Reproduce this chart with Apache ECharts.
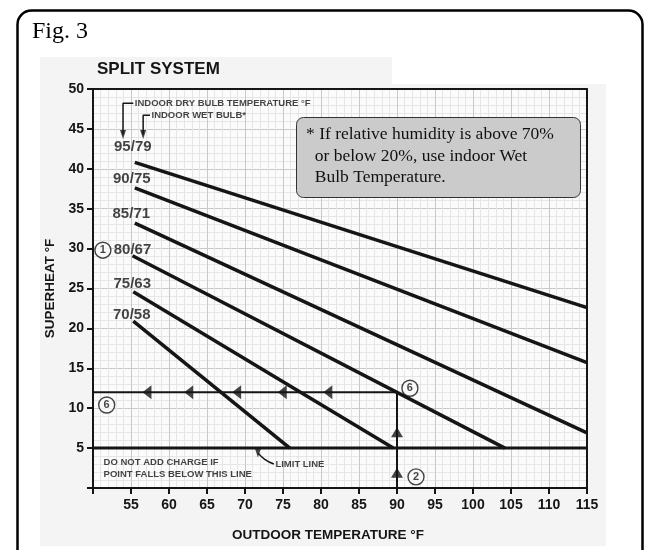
<!DOCTYPE html>
<html>
<head>
<meta charset="utf-8">
<script src="https://cdn.jsdelivr.net/npm/echarts@6/dist/echarts.min.js"></script>
<style>
  html, body { margin: 0; padding: 0; background: #fff; }
  #main { width: 645px; height: 550px; }
</style>
</head>
<body>
<div id="main"></div>
<script>
// indoor dry/wet bulb rating lines
var ratingLabels = ["95/79", "90/75", "85/71", "80/67", "75/63", "70/58"];
var lineStart = [[55.5, 40.8], [55.5, 37.6], [55.5, 33.2], [55.2, 29.1], [55.3, 24.6], [55.3, 20.9]];
var lineEnd = [[115, 22.6], [115, 15.7], [115, 6.9], [104.2, 5], [89.5, 5], [75.9, 5]];

// limit line and the worked example (90 F outdoor -> 12 F superheat)
var limitLine = [[50, 5], [115, 5]];
var exampleH = [[50, 12], [90, 12]];
var exampleV = [[90, 0], [90, 12]];
var leftArrows = [[57.1, 12], [62.6, 12], [68.9, 12], [74.9, 12], [80.9, 12]];
var upArrows = [[90, 7], [90, 1.9]];
var stepNames = ["1", "6", "6", "2"];
var stepAt = [[51.3, 29.8], [51.8, 10.4], [91.7, 12.5], [92.5, 1.4]];

// leader callouts
var dryLeader = [[55.3, 48.2], [53.95, 48.2], [53.95, 44.3]];
var wetLeader = [[57.5, 46.7], [56.6, 46.7], [56.6, 44.3]];
var limitLeader = [[73.8, 3.0], [72.6, 3.6], [71.7, 4.4]];

var xTicks = [50, 115, 5];
var yTicks = [0, 50, 5];

var ink = "#151515";
var sans = "Liberation Sans";
var serif = "Liberation Serif";

var myChart = echarts.init(document.getElementById("main"));

var labelShift = [[-2, -8], [-3, -1], [-3.5, -1], [0, 2], [-1, 0], [-1.5, 2]];

var series = [];
for (var i = 0; i < ratingLabels.length; i++) {
  series.push({
    type: "line",
    data: [lineStart[i], lineEnd[i]],
    symbol: "none",
    lineStyle: { color: ink, width: 3.5 },
    z: 5,
  });
}
series.push({
  type: "scatter",
  symbolSize: 1,
  itemStyle: { color: "rgba(0,0,0,0)" },
  data: lineStart.map(function (p, k) {
    return {
      value: p,
      label: {
        show: true,
        position: "top",
        distance: 0,
        offset: labelShift[k],
        formatter: ratingLabels[k],
        color: ink,
        fontFamily: sans,
        fontWeight: "bold",
        fontSize: 15,
      },
    };
  }),
  z: 6,
});
series.push(
  { type: "line", data: limitLine, symbol: "none", lineStyle: { color: ink, width: 3 }, z: 4 },
  { type: "line", data: exampleH, symbol: "none", lineStyle: { color: ink, width: 2 }, z: 4 },
  { type: "line", data: exampleV, symbol: "none", lineStyle: { color: ink, width: 2 }, z: 4 },
  {
    type: "scatter",
    data: leftArrows,
    symbol: "triangle",
    symbolSize: [14, 9],
    symbolRotate: 90,
    itemStyle: { color: ink },
    z: 7,
  },
  {
    type: "scatter",
    data: upArrows,
    symbol: "triangle",
    symbolSize: [12, 10],
    itemStyle: { color: ink },
    z: 7,
  },
  {
    type: "scatter",
    data: stepAt.map(function (p, k) {
      return { value: p, label: { formatter: stepNames[k] } };
    }),
    symbol: "circle",
    symbolSize: 16,
    itemStyle: { color: "#fafafa", borderColor: ink, borderWidth: 1.4 },
    label: { show: true, position: "inside", color: ink, fontFamily: sans, fontWeight: "bold", fontSize: 11 },
    z: 8,
  },
  {
    type: "line",
    data: dryLeader,
    symbol: "none",
    lineStyle: { color: ink, width: 1.5 },
    z: 6,
  },
  {
    type: "line",
    data: wetLeader,
    symbol: "none",
    lineStyle: { color: ink, width: 1.5 },
    z: 6,
  },
  {
    type: "line",
    data: limitLeader,
    symbol: "none",
    smooth: true,
    lineStyle: { color: ink, width: 1.5 },
    z: 6,
  },
  {
    type: "scatter",
    data: [dryLeader[2], wetLeader[2], limitLeader[2]],
    symbol: "triangle",
    symbolSize: [6, 9],
    symbolRotate: 180,
    itemStyle: { color: ink },
    z: 7,
  },
  {
    // callout texts
    type: "scatter",
    symbolSize: 1,
    itemStyle: { color: "rgba(0,0,0,0)" },
    label: {
      show: true,
      position: "right",
      distance: 1,
      color: ink,
      fontFamily: sans,
      fontWeight: "bold",
      fontSize: 9.5,
    },
    data: [
      { value: dryLeader[0], label: { formatter: "INDOOR DRY BULB TEMPERATURE °F" } },
      { value: wetLeader[0], label: { formatter: "INDOOR WET BULB*" } },
      { value: limitLeader[0], label: { formatter: "LIMIT LINE" } },
      {
        value: [51.2, 2.4],
        label: { formatter: "DO NOT ADD CHARGE IF\nPOINT FALLS BELOW THIS LINE", lineHeight: 12 },
      },
    ],
    z: 6,
  }
);

// top and right frame edges drawn as extra axes so they sit above the grid lines
var frameAxis = {
  min: 0,
  max: 1,
  axisLine: { show: true, onZero: false, lineStyle: { color: ink, width: 2 } },
  axisTick: { show: false },
  axisLabel: { show: false },
  splitLine: { show: false },
  z: 10,
};

var option = {
  animation: false,
  backgroundColor: "#fff",
  graphic: [
    {
      type: "rect",
      z: -10,
      shape: { x: 40, y: 57, width: 352, height: 30 },
      style: { fill: "#f4f4f4" },
    },
    {
      type: "rect",
      z: -10,
      shape: { x: 40, y: 84, width: 566, height: 462 },
      style: { fill: "#f4f4f4" },
    },
    {
      type: "rect",
      z: 100,
      shape: { x: 17.5, y: 10.5, width: 625, height: 560, r: 14 },
      style: { fill: null, stroke: "#000", lineWidth: 2.5 },
    },
    {
      type: "text",
      left: 32,
      top: 20,
      style: { text: "Fig. 3", fill: "#000", font: "24px " + serif },
    },
    {
      type: "text",
      left: 97,
      top: 61,
      style: { text: "SPLIT SYSTEM", fill: ink, font: "bold 17px " + sans },
    },
    {
      type: "rect",
      z: 100,
      shape: { x: 296.5, y: 117.5, width: 284, height: 80, r: 7 },
      style: { fill: "#cbcbcb", stroke: "#333", lineWidth: 1 },
    },
    {
      type: "text",
      z: 101,
      x: 306,
      y: 124,
      style: {
        text: "* If relative humidity is above 70%\n  or below 20%, use indoor Wet\n  Bulb Temperature.",
        fill: "#111",
        font: "17.5px " + serif,
        lineHeight: 21.5,
      },
    },
  ],
  grid: {
    left: 93,
    right: 58,
    top: 89,
    bottom: 62,
    show: true,
    borderColor: ink,
    borderWidth: 0,
    backgroundColor: "#fbfbfb",
  },
  xAxis: [
    {
      type: "value",
      min: xTicks[0],
      max: xTicks[1],
      interval: xTicks[2],
      name: "OUTDOOR TEMPERATURE °F",
      nameLocation: "middle",
      nameGap: 40,
      nameTextStyle: { color: ink, fontFamily: sans, fontWeight: "bold", fontSize: 13.5, padding: [0, 24, 0, 0] },
      axisLine: { show: true, lineStyle: { color: ink, width: 2 } },
      axisTick: { show: true, length: 6, lineStyle: { color: ink, width: 2 } },
      axisLabel: {
        margin: 10,
        color: ink,
        fontFamily: sans,
        fontWeight: "bold",
        fontSize: 14,
        formatter: function (v) { return v === xTicks[0] ? "" : v; },
      },
      splitLine: { show: true, lineStyle: { color: "#c9c9c9", width: 1 } },
      minorTick: { show: false, splitNumber: 5 },
      minorSplitLine: { show: true, lineStyle: { color: "#e6e6e6", width: 1 } },
    },
    Object.assign({ type: "value", position: "top" }, frameAxis),
  ],
  yAxis: [
    {
      type: "value",
      min: yTicks[0],
      max: yTicks[1],
      interval: yTicks[2],
      name: "SUPERHEAT °F",
      nameLocation: "middle",
      nameGap: 33,
      nameTextStyle: { color: ink, fontFamily: sans, fontWeight: "bold", fontSize: 13.5 },
      axisLine: { show: true, lineStyle: { color: ink, width: 2 } },
      axisTick: { show: true, length: 6, lineStyle: { color: ink, width: 2 } },
      axisLabel: {
        margin: 9,
        color: ink,
        fontFamily: sans,
        fontWeight: "bold",
        fontSize: 14,
        formatter: function (v) { return v === yTicks[0] ? "" : v; },
      },
      splitLine: { show: true, lineStyle: { color: "#c9c9c9", width: 1 } },
      minorTick: { show: false, splitNumber: 5 },
      minorSplitLine: { show: true, lineStyle: { color: "#e6e6e6", width: 1 } },
    },
    Object.assign({ type: "value", position: "right" }, frameAxis),
  ],
  series: series,
};

myChart.setOption(option, true);
</script>
</body>
</html>
